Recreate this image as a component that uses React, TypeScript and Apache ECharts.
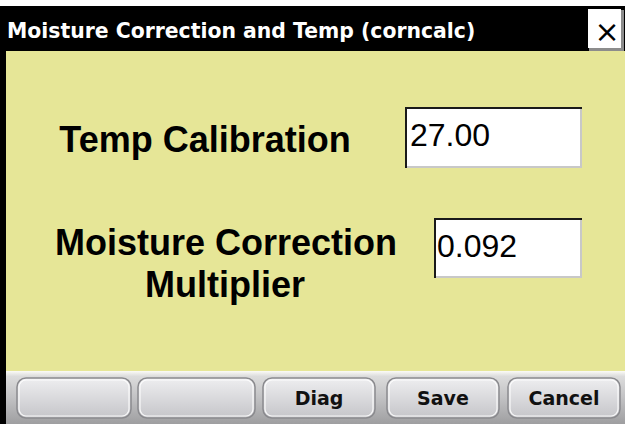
import React, { useEffect, useRef } from "react";
import * as echarts from "echarts";

const windowTitle = "Moisture Correction and Temp (corncalc)";
const closeGlyph = "×";
const fieldLabels = ["Temp Calibration", "Moisture Correction", "Multiplier"];
const fieldValues = ["27.00", "0.092"];
const buttonLabels = ["", "", "Diag", "Save", "Cancel"];

const W = 625;
const H = 424;

export default function App() {
  const ref = useRef<HTMLDivElement>(null);

  useEffect(() => {
    if (!ref.current) return;
    const chart = echarts.init(ref.current, undefined, { renderer: "svg", width: W, height: H });

    const elements: any[] = [];
    // page background
    elements.push({ type: "rect", shape: { x: 0, y: 0, width: W, height: H }, style: { fill: "#ffffff" }, silent: true });
    // title bar
    elements.push({ type: "rect", shape: { x: 0, y: 6, width: W, height: 46 }, style: { fill: "#000000" } });
    // left border
    elements.push({ type: "rect", shape: { x: 0, y: 6, width: 6, height: H - 6 }, style: { fill: "#000000" } });
    // body
    elements.push({ type: "rect", shape: { x: 6, y: 51, width: W - 6, height: 320 }, style: { fill: "#e6e697" } });
    // bottom bar
    elements.push({
      type: "rect",
      shape: { x: 6, y: 371, width: W - 6, height: H - 371 },
      style: {
        fill: new echarts.graphic.LinearGradient(0, 0, 0, 1, [
          { offset: 0, color: "#fbfbf6" },
          { offset: 0.1, color: "#dcdcdc" },
          { offset: 0.5, color: "#c2c2c4" },
          { offset: 1, color: "#9e9ea0" },
        ]),
      },
    });

    // title text
    elements.push({
      type: "text",
      x: 7,
      y: 31,
      style: {
        text: windowTitle,
        fill: "#ffffff",
        font: "bold 20.4px 'DejaVu Sans'",
        align: "left",
        verticalAlign: "middle",
      },
    });

    // close box
    elements.push({ type: "rect", shape: { x: 589, y: 10, width: 35, height: 41 }, style: { fill: "#8c8c8c" } });
    elements.push({ type: "rect", shape: { x: 588, y: 9, width: 33, height: 39 }, style: { fill: "#ffffff" } });
    elements.push({
      type: "text",
      x: 607,
      y: 31,
      style: {
        text: closeGlyph,
        fill: "#000000",
        font: "30px 'DejaVu Sans'",
        align: "center",
        verticalAlign: "middle",
      },
    });

    // labels
    const labelPos = [
      { x: 205, y: 139 },
      { x: 226, y: 242 },
      { x: 225, y: 284 },
    ];
    fieldLabels.forEach((t, i) => {
      elements.push({
        type: "text",
        x: labelPos[i].x,
        y: labelPos[i].y,
        style: {
          text: t,
          fill: "#000000",
          font: "bold 36px 'Liberation Sans'",
          align: "center",
          verticalAlign: "middle",
        },
      });
    });

    // input boxes
    const boxes = [
      { x: 405, y: 107, w: 177, h: 61, tx: 410, ty: 135 },
      { x: 434, y: 218, w: 148, h: 60, tx: 437, ty: 246 },
    ];
    fieldValues.forEach((v, i) => {
      const b = boxes[i];
      elements.push({ type: "rect", shape: { x: b.x, y: b.y, width: b.w, height: b.h }, style: { fill: "#ffffff" } });
      elements.push({
        type: "polyline",
        shape: { points: [[b.x + 1, b.y + b.h], [b.x + 1, b.y + 1], [b.x + b.w, b.y + 1]] },
        style: { stroke: "#1a1a1a", lineWidth: 2, fill: null },
      });
      elements.push({
        type: "polyline",
        shape: { points: [[b.x + 2, b.y + b.h - 1], [b.x + b.w - 1, b.y + b.h - 1], [b.x + b.w - 1, b.y + 2]] },
        style: { stroke: "#c8c8c8", lineWidth: 2, fill: null },
      });
      elements.push({
        type: "text",
        x: b.tx,
        y: b.ty,
        style: {
          text: v,
          fill: "#000000",
          font: "32px 'Liberation Sans'",
          align: "left",
          verticalAlign: "middle",
        },
      });
    });

    // buttons
    const btnX = [
      [17, 131],
      [138, 255],
      [263, 375],
      [387, 499],
      [508, 620],
    ];
    buttonLabels.forEach((t, i) => {
      const [x0, x1] = btnX[i];
      const y0 = 378;
      const y1 = 418;
      elements.push({
        type: "rect",
        shape: { x: x0, y: y0, width: x1 - x0, height: y1 - y0, r: 9 },
        style: {
          fill: new echarts.graphic.LinearGradient(0, 0, 0, 1, [
            { offset: 0, color: "#eeeef0" },
            { offset: 1, color: "#c5c5c9" },
          ]),
          stroke: "#8a8a8e",
          lineWidth: 1.5,
        },
      });
      elements.push({
        type: "rect",
        shape: { x: x0 + 2, y: y0 + 2, width: x1 - x0 - 4, height: y1 - y0 - 4, r: 7 },
        style: { fill: null, stroke: "rgba(255,255,255,0.85)", lineWidth: 1.2 },
      });
      if (t) {
        elements.push({
          type: "text",
          x: (x0 + x1) / 2,
          y: 398,
          style: {
            text: t,
            fill: "#111111",
            font: "bold 19px 'DejaVu Sans'",
            align: "center",
            verticalAlign: "middle",
          },
        });
      }
    });

    chart.setOption({
      animation: false,
      graphic: { elements },
    });

    return () => chart.dispose();
  }, []);

  return (
    <div
      ref={ref}
      style={{ position: "fixed", left: 0, top: 0, width: W, height: H, background: "#ffffff" }}
    />
  );
}
